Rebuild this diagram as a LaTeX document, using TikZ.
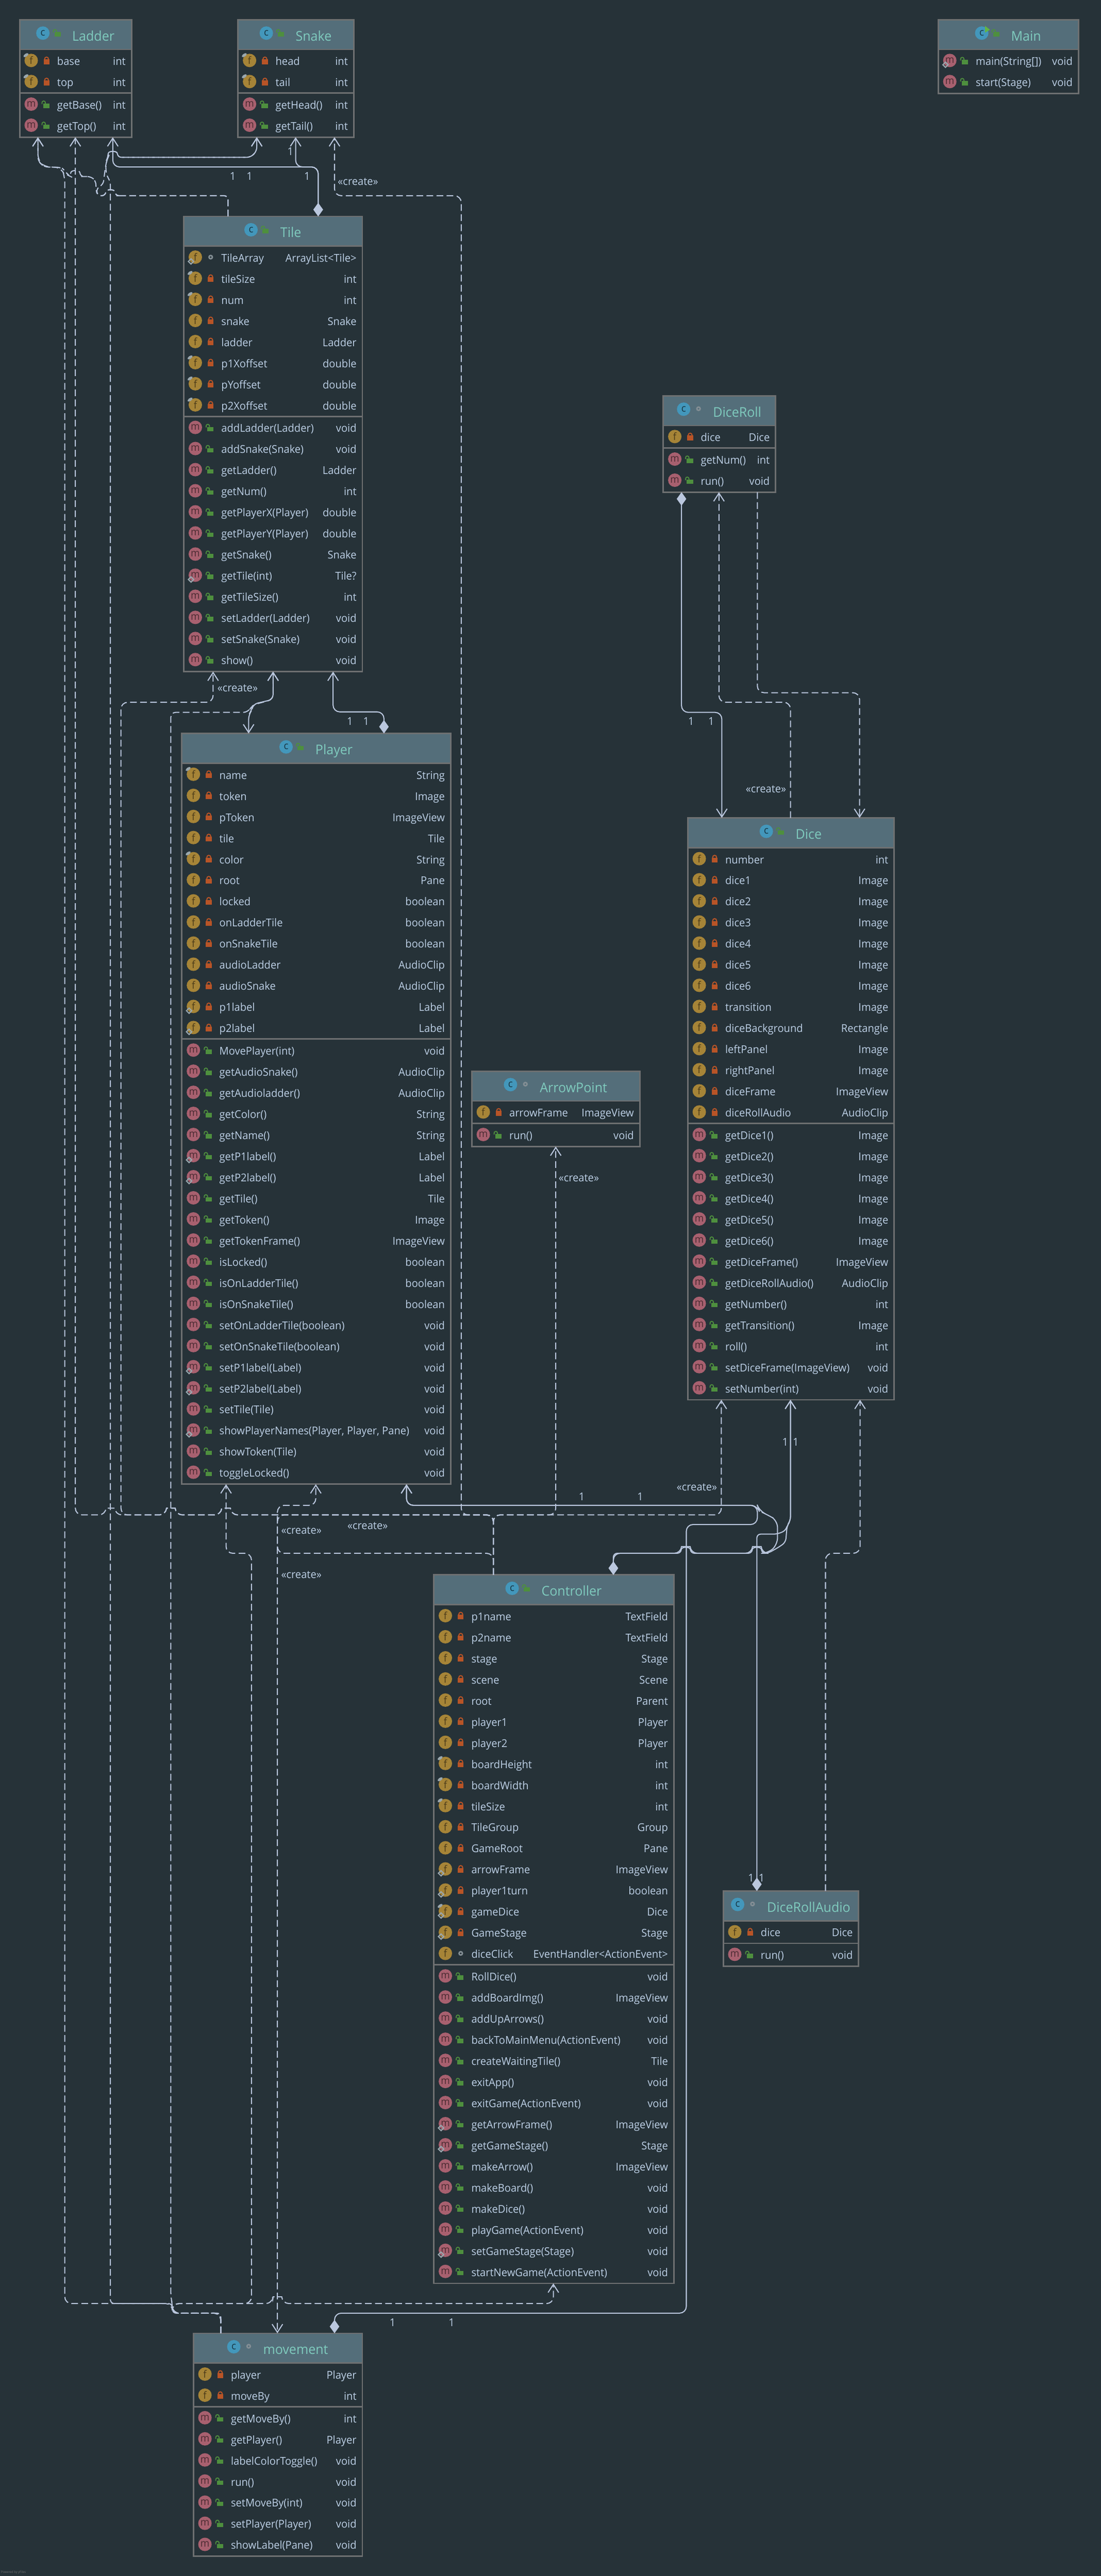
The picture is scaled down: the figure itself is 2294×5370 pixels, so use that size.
\documentclass[tikz,border=0pt]{standalone}
\usepackage{fontspec}
\setmainfont{Open Sans}[FakeStretch=0.96]
\usetikzlibrary{arrows.meta, shapes.geometric}
\definecolor{bgcol}{HTML}{263238}
\definecolor{headcol}{HTML}{546E7A}
\definecolor{framecol}{HTML}{6E7071}
\definecolor{inkcol}{HTML}{BDD0E6}
\definecolor{linecol}{HTML}{BAC7DE}
\definecolor{titlecol}{HTML}{7FCBBE}
\definecolor{fieldcol}{HTML}{A68437}
\definecolor{methodcol}{HTML}{A8606F}
\definecolor{classcol}{HTML}{4397BB}
\definecolor{redlock}{HTML}{B85427}
\definecolor{greenlock}{HTML}{4E8F3E}
\definecolor{runcol}{HTML}{62B543}
\definecolor{markcol}{HTML}{9AA7AE}
\newcommand{\rowfont}{\fontsize{22.5}{27}\selectfont}
\newcommand{\titlefont}{\fontsize{28}{32}\selectfont}
\tikzset{
    x=1pt, y=-1pt,
    classbox/.style={draw=framecol, line width=3pt, inner sep=0pt, outer sep=0pt, anchor=north west}, % the frame of a class
    rowlabel/.style={text=inkcol, font=\rowfont, inner sep=0pt, anchor=base west},
    rowtype/.style={rowlabel, anchor=base east},
    classtitle/.style={text=titlecol, font=\titlefont, inner sep=0pt, anchor=base},
    iconglyph/.style={font=\fontsize{21}{24}\selectfont, inner sep=0pt},
    conlabel/.style={text=inkcol, font=\rowfont, inner sep=0pt},
    conn/.style={draw=linecol, line width=2.2pt, rounded corners=14pt},
    barb/.style={-{Straight Barb[length=17pt, width=22pt, line width=2.2pt]}},
    dep/.style={conn, barb, dash pattern=on 14pt off 7pt}, % dashed dependency
    assoc/.style={conn, barb},
    comp/.style={conn, {Diamond[length=28pt, width=20pt, fill=linecol]}-{Straight Barb[length=17pt, width=22pt, line width=2.2pt]}},
    both/.style={conn, {Straight Barb[length=17pt, width=22pt, line width=2.2pt]}-{Straight Barb[length=17pt, width=22pt, line width=2.2pt]}},
    icon f/.pic={\fill[fieldcol] (0,0) circle (14); \node[iconglyph, text=fieldcol!45!black] (glyph) {f};},
    icon m/.pic={\fill[methodcol] (0,0) circle (14); \node[iconglyph, text=methodcol!45!black] (glyph) {m};},
    icon c/.pic={\fill[classcol] (0,0) circle (14); \node[iconglyph, text=classcol!35!black] (glyph) {c};},
    vis pri/.pic={\fill[redlock] (-6,-4) rectangle (6,6); \draw[redlock, line width=2.2pt] (-4,-3) -- (-4,-5) arc (180:360:4) -- (4,-3);},
    vis pub/.pic={\fill[greenlock] (-7,-3) rectangle (6,6); \draw[greenlock, line width=2pt] (-9.5,-2) -- (-9.5,-5) arc (180:360:3.5) -- (-2.5,-3);},
    vis pkg/.pic={\draw[markcol!85!black, line width=3pt] (0,-2) circle (3.5);},
    flag n/.pic={},
    flag p/.pic={\fill[markcol, shift={(-11,-11)}, rotate=35] (0,0) ellipse [x radius=6, y radius=3];},
    flag s/.pic={\draw[markcol, line width=2.4pt] (-9,9) +(5.5,0) -- +(0,5.5) -- +(-5.5,0) -- +(0,-5.5) -- cycle;},
    flag b/.pic={\fill[markcol, shift={(-11,-11)}, rotate=35] (0,0) ellipse [x radius=6, y radius=3];
        \draw[markcol, line width=2.4pt] (-9,9) +(5.5,0) -- +(0,5.5) -- +(-5.5,0) -- +(0,-5.5) -- cycle;},
}
% rows of one compartment: node name, left, right, y of the first row, rows
\newcommand{\umlrows}[5]{%
    \foreach \kind/\flag/\vis/\lab/\typ [count=\i] in {#5} {
        \pgfmathsetmacro\rowy{#4+44*(\i-1)}
        \pic at (#2+24,\rowy-2) {icon \kind};
        \pic at (#2+24,\rowy-2) {flag \flag};
        \pic at (#2+56,\rowy) {vis \vis};
        \node[rowlabel] (#1-\kind\i) at (#2+78,\rowy+8) {\lab};
        \node[rowtype] (#1-\kind\i-type) at (#3-12,\rowy+8) {\typ};
    }%
}
% name, left, top, width, number of fields, number of methods, visibility, fields, methods
\newcommand{\umlclass}[9]{%
    \ifnum#5>0
        \pgfmathsetmacro\sepy{#3+87+44*(#5-1)+22}
        \pgfmathsetmacro\firstm{\sepy+25}
    \else
        \pgfmathsetmacro\firstm{#3+87}
    \fi
    \pgfmathsetmacro\boxh{\firstm+44*(#6-1)+23-#3}
    \pgfmathsetmacro\boxr{#2+#4}
    \fill[headcol] (#2,#3) rectangle (\boxr,#3+62);
    \node[classbox, minimum width=#4pt, minimum height=\boxh pt] (#1) at (#2,#3) {};
    \draw[framecol, line width=3pt] (#2,#3+62) -- (\boxr,#3+62);
    \node[classtitle] (#1-title) at (#2+#4/2+37,#3+44) {#1};
    \pic at ([shift={(-61,-16)}]#1-title.base west) {icon c};
    \pic at ([shift={(-30,-15)}]#1-title.base west) {vis #7};
    \ifnum#5>0
        \draw[framecol, line width=3pt] (#2,\sepy) -- (\boxr,\sepy);
        \umlrows{#1}{#2}{\boxr}{#3+87}{#8}
    \fi
    \umlrows{#1}{#2}{\boxr}{\firstm}{#9}
}
% small arc of a line that passes over another one, going to the left or to the right
\newcommand{\hopl}[2]{-- (#1+10,#2) .. controls (#1+9,#2-14) and (#1-9,#2-14) .. (#1-10,#2)}
\newcommand{\hopr}[2]{-- (#1-10,#2) .. controls (#1-9,#2-14) and (#1+9,#2-14) .. (#1+10,#2)}
\begin{document}
\begin{tikzpicture}
    \fill[bgcol] (0,0) rectangle (2294,5370);
    \useasboundingbox (0,0) rectangle (2294,5370);

    \umlclass{Ladder}{41}{41}{233}{2}{2}{pub}
        {f/p/pri/base/int, f/p/pri/top/int}
        {m/n/pub/getBase()/int, m/n/pub/getTop()/int}
    \umlclass{Snake}{496}{41}{241}{2}{2}{pub}
        {f/p/pri/head/int, f/p/pri/tail/int}
        {m/n/pub/getHead()/int, m/n/pub/getTail()/int}
    \umlclass{Main}{1955}{41}{292}{0}{2}{pub}
        {}
        {m/s/pub/main(String[])/void, m/n/pub/start(Stage)/void}
    \umlclass{Tile}{383}{451}{372}{8}{12}{pub}
        {f/s/pkg/TileArray/ArrayList<Tile>, f/p/pri/tileSize/int, f/p/pri/num/int, f/n/pri/snake/Snake,
         f/n/pri/ladder/Ladder, f/p/pri/p1Xoffset/double, f/p/pri/pYoffset/double, f/p/pri/p2Xoffset/double}
        {m/n/pub/addLadder(Ladder)/void, m/n/pub/addSnake(Snake)/void, m/n/pub/getLadder()/Ladder,
         m/n/pub/getNum()/int, m/n/pub/getPlayerX(Player)/double, m/n/pub/getPlayerY(Player)/double,
         m/n/pub/getSnake()/Snake, m/s/pub/getTile(int)/Tile?, m/n/pub/getTileSize()/int,
         m/n/pub/setLadder(Ladder)/void, m/n/pub/setSnake(Snake)/void, m/n/pub/show()/void}
    \umlclass{DiceRoll}{1382}{825}{234}{1}{2}{pkg}
        {f/n/pri/dice/Dice}
        {m/n/pub/getNum()/int, m/n/pub/run()/void}
    \umlclass{Player}{379}{1529}{560}{13}{21}{pub}
        {f/p/pri/name/String, f/n/pri/token/Image, f/n/pri/pToken/ImageView, f/n/pri/tile/Tile,
         f/p/pri/color/String, f/n/pri/root/Pane, f/n/pri/locked/boolean, f/n/pri/onLadderTile/boolean,
         f/n/pri/onSnakeTile/boolean, f/n/pri/audioLadder/AudioClip, f/n/pri/audioSnake/AudioClip,
         f/s/pri/p1label/Label, f/s/pri/p2label/Label}
        {m/n/pub/MovePlayer(int)/void, m/n/pub/getAudioSnake()/AudioClip, m/n/pub/getAudioladder()/AudioClip,
         m/n/pub/getColor()/String, m/n/pub/getName()/String, m/s/pub/getP1label()/Label,
         m/s/pub/getP2label()/Label, m/n/pub/getTile()/Tile, m/n/pub/getToken()/Image,
         m/n/pub/getTokenFrame()/ImageView, m/n/pub/isLocked()/boolean, m/n/pub/isOnLadderTile()/boolean,
         m/n/pub/isOnSnakeTile()/boolean, m/n/pub/setOnLadderTile(boolean)/void,
         m/n/pub/setOnSnakeTile(boolean)/void, m/s/pub/setP1label(Label)/void, m/s/pub/setP2label(Label)/void,
         m/n/pub/setTile(Tile)/void, {m/s/pub/showPlayerNames(Player, Player, Pane)/void},
         m/n/pub/showToken(Tile)/void, m/n/pub/toggleLocked()/void}
    \umlclass{Dice}{1433}{1705}{430}{13}{13}{pub}
        {f/n/pri/number/int, f/n/pri/dice1/Image, f/n/pri/dice2/Image, f/n/pri/dice3/Image, f/n/pri/dice4/Image,
         f/n/pri/dice5/Image, f/n/pri/dice6/Image, f/n/pri/transition/Image, f/n/pri/diceBackground/Rectangle,
         f/n/pri/leftPanel/Image, f/n/pri/rightPanel/Image, f/n/pri/diceFrame/ImageView, f/n/pri/diceRollAudio/AudioClip}
        {m/n/pub/getDice1()/Image, m/n/pub/getDice2()/Image, m/n/pub/getDice3()/Image, m/n/pub/getDice4()/Image,
         m/n/pub/getDice5()/Image, m/n/pub/getDice6()/Image, m/n/pub/getDiceFrame()/ImageView,
         m/n/pub/getDiceRollAudio()/AudioClip, m/n/pub/getNumber()/int, m/n/pub/getTransition()/Image,
         m/n/pub/roll()/int, m/n/pub/setDiceFrame(ImageView)/void, m/n/pub/setNumber(int)/void}
    \umlclass{ArrowPoint}{983}{2233}{350}{1}{1}{pkg}
        {f/n/pri/arrowFrame/ImageView}
        {m/n/pub/run()/void}
    \umlclass{Controller}{904}{3283}{500}{17}{15}{pub}
        {f/n/pri/p1name/TextField, f/n/pri/p2name/TextField, f/n/pri/stage/Stage, f/n/pri/scene/Scene,
         f/n/pri/root/Parent, f/n/pri/player1/Player, f/n/pri/player2/Player, f/p/pri/boardHeight/int,
         f/p/pri/boardWidth/int, f/p/pri/tileSize/int, f/n/pri/TileGroup/Group, f/n/pri/GameRoot/Pane,
         f/s/pri/arrowFrame/ImageView, f/s/pri/player1turn/boolean, f/b/pri/gameDice/Dice,
         f/s/pri/GameStage/Stage, f/n/pkg/diceClick/EventHandler<ActionEvent>}
        {m/n/pub/RollDice()/void, m/n/pub/addBoardImg()/ImageView, m/n/pub/addUpArrows()/void,
         m/n/pub/backToMainMenu(ActionEvent)/void, m/n/pub/createWaitingTile()/Tile, m/n/pub/exitApp()/void,
         m/n/pub/exitGame(ActionEvent)/void, m/s/pub/getArrowFrame()/ImageView, m/s/pub/getGameStage()/Stage,
         m/n/pub/makeArrow()/ImageView, m/n/pub/makeBoard()/void, m/n/pub/makeDice()/void,
         m/n/pub/playGame(ActionEvent)/void, m/s/pub/setGameStage(Stage)/void, m/n/pub/startNewGame(ActionEvent)/void}
    \umlclass{DiceRollAudio}{1507}{3942}{282}{1}{1}{pkg}
        {f/n/pri/dice/Dice}
        {m/n/pub/run()/void}
    \umlclass{movement}{403}{4864}{352}{2}{7}{pkg}
        {f/n/pri/player/Player, f/n/pri/moveBy/int}
        {m/n/pub/getMoveBy()/int, m/n/pub/getPlayer()/Player, m/n/pub/labelColorToggle()/void, m/n/pub/run()/void,
         m/n/pub/setMoveBy(int)/void, m/n/pub/setPlayer(Player)/void, m/n/pub/showLabel(Pane)/void}
    \fill[runcol] ([shift={(-54,-31)}]Main-title.base west) -- ++(10,8) -- ++(-10,6) -- cycle; % run marker of Main

    % Tile and its ladder and snake
    \draw[comp] ([xshift=280pt]Tile.north west) -- (663,348) -- (235,348) -- ([xshift=194pt]Ladder.south west);
    \draw[comp] ([xshift=280pt]Tile.north west) -- (663,348) -- (616,348) -- ([xshift=120pt]Snake.south west);
    \draw[dep, rounded corners=8pt] ([xshift=92pt]Tile.north west) -- (475,408) -- (250,408) \hopl{230}{408} -- (203,408) -- (200,395) -- (200,378) -- (190,368) -- (177,368) \hopl{157}{368} -- (143,366) -- (135,356) -- (128,349) -- (92,348) -- (79,335) -- ([xshift=38pt]Ladder.south west);
    \draw[dep, rounded corners=8pt] ([xshift=92pt]Tile.north west) -- (475,408) -- (250,408) \hopl{230}{408} -- (203,408) -- (201,392) -- (215,385) -- (220,345) -- (224,330) \hopr{235}{328} -- (522,328) -- (535,315) -- ([xshift=39pt]Snake.south west);

    % DiceRoll and Dice
    \draw[comp] ([xshift=38pt]DiceRoll.south west) -- (1420,1485) -- (1504,1485) -- ([xshift=71pt]Dice.north west);
    \draw[dep] ([xshift=214pt]Dice.north west) -- (1647,1464) -- (1498,1464) -- ([xshift=116pt]DiceRoll.south west);
    \draw[dep] ([xshift=196pt]DiceRoll.south west) -- (1578,1444) -- (1791,1444) -- ([xshift=358pt]Dice.north west);

    % Player and Tile
    \draw[comp] ([xshift=421pt]Player.north west) -- (800,1484) -- (694,1484) -- ([xshift=311pt]Tile.south west);
    \draw[both, rounded corners=10pt] ([xshift=139pt]Player.north west) -- (518,1490) -- (525,1480) -- (527,1468) -- (569,1458) -- ([xshift=186pt]Tile.south west);

    % Controller, all on the bus above it
    \draw[dep] ([xshift=124pt]Controller.north west) -- (1028,3158) -- (1503,3158) -- ([xshift=70pt]Dice.south west);
    \draw[dep] ([xshift=124pt]Controller.north west) -- (1028,3158) -- (1158,3158) -- ([xshift=175pt]ArrowPoint.south west);
    \draw[dep] ([xshift=124pt]Controller.north west) -- (1028,3158) -- (961,3158) -- (961,408) -- (697,408) -- ([xshift=201pt]Snake.south west);
    \draw[dep] ([xshift=124pt]Controller.north west) -- (1028,3158) -- (578,3158) \hopl{471}{3158} \hopl{356}{3158} \hopl{230}{3158} -- (157,3158) -- ([xshift=116pt]Ladder.south west);
    \draw[dep] ([xshift=124pt]Controller.north west) -- (1028,3158) -- (578,3158) \hopl{471}{3158} \hopl{356}{3158} -- (252,3158) -- (252,1464) -- (444,1464) -- ([xshift=61pt]Tile.south west);
    \draw[dep] ([xshift=124pt]Controller.north west) -- (1028,3238) -- (578,3238) -- (578,3138) -- (658,3138) -- ([xshift=279pt]Player.south west);
    \draw[dep] ([xshift=124pt]Controller.north west) -- (1028,3158) -- (578,3158) -- ([xshift=175pt]movement.north west);
    \draw[comp] ([xshift=374pt]Controller.north west) -- (1278,3238) \hopr{1429}{3238} \hopr{1577}{3238} -- (1600,3238) -- (1620,3220) -- (1620,3170) -- (1600,3158) -- (1582,3150) -- (1578,3138) -- (847,3138) -- ([xshift=468pt]Player.south west);
    \draw[comp, rounded corners=8pt] ([xshift=374pt]Controller.north west) -- (1278,3238) \hopr{1429}{3238} \hopr{1577}{3238} -- (1600,3238) -- (1623,3225) -- (1637,3215) -- (1640,3180) -- (1647,3170) -- ([xshift=214pt]Dice.south west);

    % movement, all on the bus above it
    \draw[dep] ([xshift=57pt]movement.north west) -- (460,4822) -- (359,4822) -- (359,4802) -- (568,4802) \hopr{578}{4802} -- (1153,4802) -- ([xshift=249pt]Controller.south west);
    \draw[dep] ([xshift=57pt]movement.north west) -- (460,4822) -- (359,4822) -- (359,4802) -- (524,4802) -- (524,3238) -- (471,3238) -- ([xshift=92pt]Player.south west);
    \draw[dep] ([xshift=57pt]movement.north west) -- (460,4822) -- (359,4822) -- (359,4802) -- (135,4802) -- (135,368) -- (128,349) -- (92,348) -- (79,335) -- ([xshift=38pt]Ladder.south west);
    \draw[dep, rounded corners=8pt] ([xshift=57pt]movement.north west) -- (460,4822) -- (359,4822) -- (359,4802) -- (230,4802) -- (230,378) -- (222,366) -- (220,345) -- (224,330) \hopr{235}{328} -- (522,328) -- (535,315) -- ([xshift=39pt]Snake.south west);
    \draw[dep, rounded corners=10pt] ([xshift=57pt]movement.north west) -- (460,4822) -- (359,4822) -- (359,4802) -- (356,4790) -- (356,1485) -- (517,1485) -- (525,1470) -- (569,1458) -- ([xshift=186pt]Tile.south west);
    \draw[comp] ([xshift=294pt]movement.north west) -- (697,4822) -- (1430,4822) -- (1430,3178) -- (1578,3178) -- (1578,3138) -- (847,3138) -- ([xshift=468pt]Player.south west);

    % DiceRollAudio and Dice
    \draw[comp, rounded corners=8pt] ([xshift=70pt]DiceRollAudio.north west) -- (1577,3198) -- (1620,3198) -- (1638,3190) -- (1640,3180) -- (1647,3170) -- ([xshift=214pt]Dice.south west);
    \draw[dep] ([xshift=213pt]DiceRollAudio.north west) -- (1720,3238) -- (1792,3238) -- ([xshift=359pt]Dice.south west);

    % labels
    \node[conlabel] (createSnake) at (746,379) {«create»};
    \node[conlabel] (createTile) at (495,1435) {«create»};
    \node[conlabel] (createDice) at (1596,1645) {«create»};
    \node[conlabel] (createArrow) at (1206,2456) {«create»};
    \node[conlabel] (createDiceB) at (1452,3100) {«create»};
    \node[conlabel] (createPlayerA) at (628,3190) {«create»};
    \node[conlabel] (createPlayerB) at (766,3181) {«create»};
    \node[conlabel] (createMove) at (628,3283) {«create»};
    \node[conlabel] (oneA) at (485,367) {1};
    \node[conlabel] (oneB) at (520,367) {1};
    \node[conlabel] (oneC) at (640,367) {1};
    \node[conlabel] (oneD) at (605,316) {1};
    \node[conlabel] (oneE) at (1440,1504) {1};
    \node[conlabel] (oneF) at (1482,1504) {1};
    \node[conlabel] (oneG) at (729,1504) {1};
    \node[conlabel] (oneH) at (763,1504) {1};
    \node[conlabel] (oneI) at (1212,3120) {1};
    \node[conlabel] (oneJ) at (1334,3120) {1};
    \node[conlabel] (oneK) at (1636,3006) {1};
    \node[conlabel] (oneL) at (1658,3006) {1};
    \node[conlabel] (oneM) at (1565,3915) {1};
    \node[conlabel] (oneN) at (1587,3915) {1};
    \node[conlabel] (oneO) at (818,4842) {1};
    \node[conlabel] (oneP) at (941,4842) {1};
    \node[text=framecol, font=\fontsize{6.5}{8}\selectfont, inner sep=0pt] (powered) at (28,5362) {Powered by yFiles};
\end{tikzpicture}
\end{document}
